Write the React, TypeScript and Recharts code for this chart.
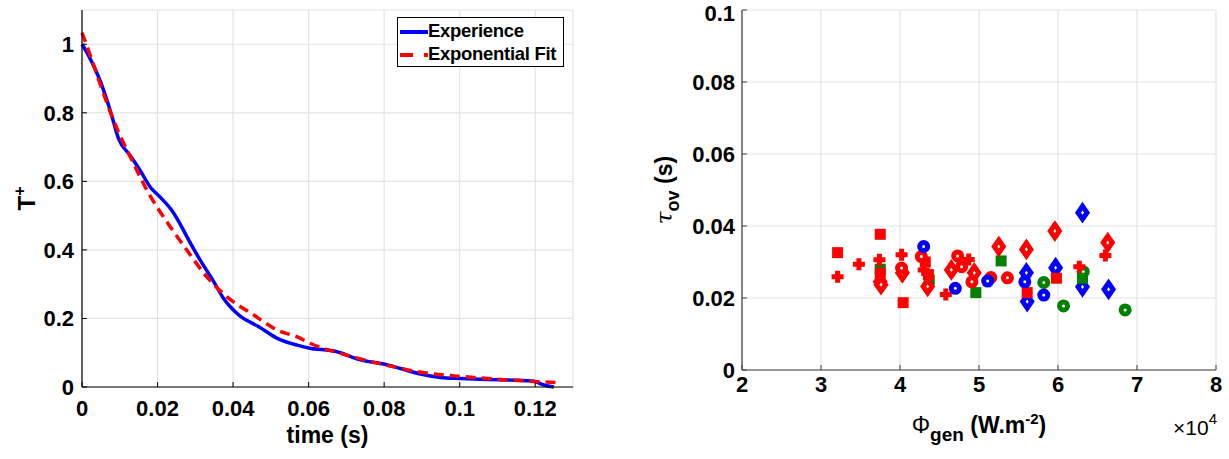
import React from 'react';
import { LineChart, Line, XAxis, YAxis, CartesianGrid, ScatterChart, Scatter } from 'recharts';

const FONT = '"Liberation Sans", Arial, Helvetica, sans-serif';

// left panel : normalised temperature decay
const expTime = [0, 0.00175, 0.0048, 0.0075, 0.0097, 0.0128, 0.0154, 0.0181, 0.0207, 0.0238, 0.0269, 0.0278, 0.0313, 0.0349, 0.0375, 0.0415, 0.0468, 0.0517, 0.057, 0.06, 0.0675, 0.0737, 0.0799, 0.0843, 0.0896, 0.0949, 0.1002, 0.1073, 0.1143, 0.1196, 0.1223, 0.1249];
const expTemp = [1, 0.967, 0.894, 0.806, 0.724, 0.675, 0.632, 0.583, 0.554, 0.515, 0.457, 0.438, 0.37, 0.307, 0.258, 0.21, 0.176, 0.142, 0.122, 0.114, 0.103, 0.079, 0.067, 0.054, 0.038, 0.028, 0.025, 0.022, 0.02, 0.0165, 0.006, 0];
const fitTime = [0, 0.0022, 0.0048, 0.0084, 0.0137, 0.0172, 0.0234, 0.0278, 0.0331, 0.0384, 0.0455, 0.0517, 0.057, 0.0605, 0.0684, 0.0755, 0.0834, 0.0887, 0.0958, 0.1037, 0.1108, 0.1179, 0.1263];
const fitTemp = [1.034, 0.967, 0.884, 0.777, 0.651, 0.574, 0.467, 0.399, 0.321, 0.263, 0.21, 0.166, 0.146, 0.127, 0.098, 0.077, 0.057, 0.045, 0.035, 0.028, 0.022, 0.0175, 0.0125];
const timeTicks = [0, 0.02, 0.04, 0.06, 0.08, 0.1, 0.12];
const tempTicks = [0, 0.2, 0.4, 0.6, 0.8, 1];

// right panel : tau_ov vs generated flux (W.m-2)
const fluxTicks = [20000, 30000, 40000, 50000, 60000, 70000, 80000];
const tauTicks = [0, 0.02, 0.04, 0.06, 0.08, 0.1];
const redSquares = [[32100, 0.0326], [37500, 0.0377], [37500, 0.0269], [40400, 0.0187], [43200, 0.03], [43600, 0.0265], [56100, 0.0215], [59800, 0.0255]];
const redCrosses = [[32100, 0.0259], [34800, 0.0294], [37400, 0.0306], [40200, 0.032], [43000, 0.0278], [45800, 0.021], [48700, 0.0307], [62700, 0.0287], [66000, 0.0318]];
const redDiamonds = [[37500, 0.0245], [37600, 0.0237], [40300, 0.027], [43500, 0.0232], [46500, 0.0278], [49400, 0.027], [52500, 0.0343], [56000, 0.0335], [59600, 0.0386], [66300, 0.0354]];
const redCircles = [[40200, 0.0283], [42700, 0.0315], [47300, 0.0317], [47800, 0.0287], [49100, 0.0245], [51500, 0.0257], [53600, 0.0256]];
const blueCircles = [[43000, 0.0343], [47000, 0.0227], [51100, 0.0247], [55800, 0.0245], [58200, 0.0208]];
const blueDiamonds = [[56000, 0.027], [56100, 0.019], [59700, 0.0284], [63100, 0.0437], [63100, 0.0231], [66400, 0.0224]];
const greenSquares = [[37500, 0.028], [43700, 0.025], [49600, 0.0215], [52800, 0.0303], [63100, 0.0255]];
const greenCircles = [[58200, 0.0243], [60700, 0.0178], [63200, 0.0273], [68500, 0.0167]];

const expData = expTime.map((t, i) => ({ t, v: expTemp[i] }));
const fitData = fitTime.map((t, i) => ({ t, v: fitTemp[i] }));
const pts = (arr: number[][]) => arr.map(([x, y]) => ({ x, y }));

const tickStyle = { fill: '#000', fontSize: 22, fontWeight: 'bold', fontFamily: FONT };

// marker shapes (matlab-like)
const square = (c: string) => (p: any) => <rect x={p.cx - 5.5} y={p.cy - 5.5} width={11} height={11} fill={c} />;
const cross = (c: string) => (p: any) => (
  <path
    d={`M${p.cx - 2.5},${p.cy - 6} h5 v3.5 h3.5 v5 h-3.5 v3.5 h-5 v-3.5 h-3.5 v-5 h3.5 z`}
    fill={c}
  />
);
const diamond = (c: string) => (p: any) => (
  <path d={`M${p.cx},${p.cy - 6.5} L${p.cx + 4.5},${p.cy} L${p.cx},${p.cy + 6.5} L${p.cx - 4.5},${p.cy} Z`} fill="#fff" stroke={c} strokeWidth={5} strokeLinejoin="miter" />
);
const ring = (c: string) => (p: any) => <circle cx={p.cx} cy={p.cy} r={4} fill="#fff" stroke={c} strokeWidth={5} />;

function TLabel({ viewBox }: any) {
  const x = viewBox.x + 35;
  const y = viewBox.y + viewBox.height / 2;
  return (
    <text x={x} y={y} transform={`rotate(-90 ${x} ${y})`} textAnchor="middle" fontFamily={FONT} fontWeight="bold" fontSize={24} fill="#000">
      T<tspan dy={-10} fontSize={16}>+</tspan>
    </text>
  );
}

function TimeLabel({ viewBox }: any) {
  return (
    <text x={viewBox.x + viewBox.width / 2} y={viewBox.y + 56} textAnchor="middle" fontFamily={FONT} fontWeight="bold" fontSize={23} fill="#000">
      time (s)
    </text>
  );
}

function TauLabel({ viewBox }: any) {
  const x = viewBox.x + 52;
  const y = viewBox.y + viewBox.height / 2;
  return (
    <text x={x} y={y} transform={`rotate(-90 ${x} ${y})`} textAnchor="middle" fontFamily={FONT} fontSize={23} fill="#000">
      <tspan fontStyle="italic" fontFamily="DejaVu Serif">τ</tspan>
      <tspan dy={7} fontSize={18} fontWeight="bold">ov</tspan>
      <tspan dy={-7} fontWeight="bold"> (s)</tspan>
    </text>
  );
}

function FluxLabel({ viewBox }: any) {
  const cx = viewBox.x + viewBox.width / 2;
  return (
    <g>
      <text x={cx} y={viewBox.y + 63} textAnchor="middle" fontFamily={FONT} fontSize={23} fill="#000">
        <tspan>Φ</tspan>
        <tspan dy={8} fontSize={19} fontWeight="bold">gen</tspan>
        <tspan dy={-8} fontWeight="bold"> (W.m</tspan>
        <tspan dy={-9} fontSize={15} fontWeight="bold">-2</tspan>
        <tspan dy={9} fontWeight="bold">)</tspan>
      </text>
      <text x={viewBox.x + viewBox.width + 1} y={viewBox.y + 65} textAnchor="end" fontFamily={FONT} fontSize={21} fill="#000">
        ×10<tspan dy={-11} fontSize={15}>4</tspan>
      </text>
    </g>
  );
}

function LegendBox() {
  return (
    <div style={{ position: 'absolute', left: 397, top: 17, width: 167, height: 50, boxSizing: 'border-box', border: '1.5px solid #000', background: '#fff', fontFamily: FONT, fontWeight: 'bold', fontSize: 18.5, letterSpacing: -0.3, whiteSpace: 'nowrap' }}>
      <svg width={30} height={48} style={{ position: 'absolute', left: 2, top: 0 }}>
        <line x1={0} x2={28} y1={14} y2={14} stroke="#0000ff" strokeWidth={4} />
        <line x1={0} x2={28} y1={37} y2={37} stroke="#ff0000" strokeWidth={4} strokeDasharray="13 11" />
      </svg>
      <div style={{ position: 'absolute', left: 30, top: 2 }}>Experience</div>
      <div style={{ position: 'absolute', left: 30, top: 25 }}>Exponential Fit</div>
    </div>
  );
}

export default function App() {
  return (
    <div style={{ position: 'absolute', left: 0, top: 0, width: 1229, height: 459, background: '#fff' }}>
      <div style={{ position: 'absolute', left: 0, top: 0 }}>
        <LineChart width={620} height={459} margin={{ top: 10, right: 47, bottom: 0, left: 0 }}>
          <CartesianGrid stroke="#e3e3e3" strokeWidth={1.2} />
          <XAxis
            dataKey="t"
            type="number"
            domain={[0, 0.13]}
            ticks={timeTicks}
            height={72}
            tick={tickStyle}
            tickSize={-5}
            tickMargin={18}
            axisLine={{ stroke: '#000', strokeWidth: 1.2 }}
            tickLine={{ stroke: '#000' }}
            label={<TimeLabel />}
          />
          <YAxis
            dataKey="v"
            type="number"
            domain={[0, 1.1]}
            ticks={tempTicks}
            width={82}
            tick={tickStyle}
            tickSize={-5}
            tickMargin={13}
            axisLine={{ stroke: '#000', strokeWidth: 1.2 }}
            tickLine={{ stroke: '#000' }}
            label={<TLabel />}
          />
          <Line data={expData} dataKey="v" type="monotone" stroke="#0000ff" strokeWidth={3.5} dot={false} isAnimationActive={false} />
          <Line data={fitData} dataKey="v" type="monotone" stroke="#ff0000" strokeWidth={3.5} strokeDasharray="10 6" dot={false} isAnimationActive={false} />
        </LineChart>
        <LegendBox />
      </div>
      <div style={{ position: 'absolute', left: 620, top: 0 }}>
        <ScatterChart width={609} height={459} margin={{ top: 10, right: 13, bottom: 0, left: 0 }}>
          <CartesianGrid stroke="#e3e3e3" strokeWidth={1.2} />
          <XAxis
            dataKey="x"
            type="number"
            domain={[20000, 80000]}
            ticks={fluxTicks}
            tickFormatter={(v: number) => String(v / 10000)}
            height={89}
            tick={tickStyle}
            tickSize={-5}
            tickMargin={11}
            axisLine={{ stroke: '#404040', strokeWidth: 1.2 }}
            tickLine={{ stroke: '#404040' }}
            label={<FluxLabel />}
          />
          <YAxis
            dataKey="y"
            type="number"
            domain={[0, 0.1]}
            ticks={tauTicks}
            width={122}
            tick={tickStyle}
            tickSize={-5}
            tickMargin={12}
            axisLine={{ stroke: '#404040', strokeWidth: 1.2 }}
            tickLine={{ stroke: '#404040' }}
            label={<TauLabel />}
          />
          <Scatter data={pts(greenCircles)} shape={ring('#008000')} isAnimationActive={false} />
          <Scatter data={pts(blueDiamonds)} shape={diamond('#0000ff')} isAnimationActive={false} />
          <Scatter data={pts(greenSquares)} shape={square('#008000')} isAnimationActive={false} />
          <Scatter data={pts(redSquares)} shape={square('#ff0000')} isAnimationActive={false} />
          <Scatter data={pts(redCrosses)} shape={cross('#ff0000')} isAnimationActive={false} />
          <Scatter data={pts(redDiamonds)} shape={diamond('#ff0000')} isAnimationActive={false} />
          <Scatter data={pts(redCircles)} shape={ring('#ff0000')} isAnimationActive={false} />
          <Scatter data={pts(blueCircles)} shape={ring('#0000ff')} isAnimationActive={false} />
        </ScatterChart>
      </div>
    </div>
  );
}
